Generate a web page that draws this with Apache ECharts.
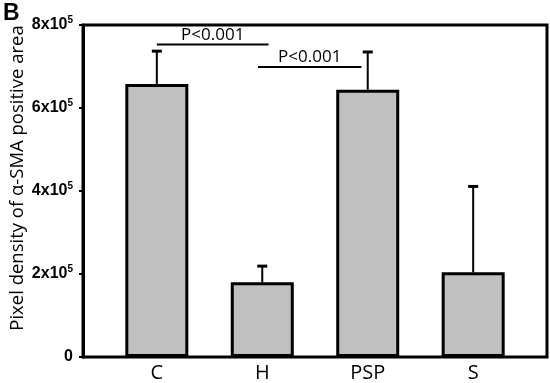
<!DOCTYPE html>
<html><head><meta charset="utf-8">
<script src="https://cdn.jsdelivr.net/npm/echarts@6/dist/echarts.min.js"></script>
<style>html,body{margin:0;padding:0;background:#fff}#c{width:550px;height:383px}</style>
</head><body><div id="c"></div>
<script>
const categories = ['C', 'H', 'PSP', 'S'];
const means = [658000, 180000, 644000, 204000];
const errTops = [737000, 219000, 735000, 411000];
const yTicks = [0, 200000, 400000, 600000, 800000];
const sigPairs = [[1.0, 2.06, 753000], [1.96, 2.94, 699000]];
const sigLabels = ['P<0.001', 'P<0.001'];
const yTitle = 'Pixel density of α-SMA positive area';

const chart = echarts.init(document.getElementById('c'));
const font = 'Liberation Sans';
chart.setOption({
  animation: false,
  grid: { left: 83, right: 3, top: 25, bottom: 25, show: true, borderColor: '#000', borderWidth: 3, backgroundColor: 'transparent' },
  graphic: [
    { type: 'text', left: 3, top: 2, style: { text: 'B', font: 'bold 23px "Liberation Sans"', fill: '#000' } },
    { type: 'text', x: 18, y: 178, rotation: Math.PI / 2, style: { text: yTitle, font: '18.5px "Open Sans"', fill: '#000', align: 'center', verticalAlign: 'middle' } }
  ],
  xAxis: {
    type: 'value', min: 0.3, max: 4.7,
    splitLine: { show: false },
    axisLine: { show: false },
    axisTick: { show: false },
    axisLabel: {
      customValues: [1, 2, 3, 4],
      formatter: v => categories[Math.round(v) - 1] || '',
      color: '#000', fontFamily: 'Open Sans', fontSize: 20, margin: 6
    }
  },
  yAxis: {
    type: 'value', min: 0, max: 800000, interval: 200000,
    splitLine: { show: false },
    axisLine: { show: true, lineStyle: { color: '#000', width: 3 } },
    axisTick: { show: true, length: 4, lineStyle: { color: '#000', width: 2 } },
    axisLabel: {
      color: '#000', margin: 10,
      formatter: v => v === 0 ? '{b|0}' : '{b|' + (v / 100000) + 'x10}{s|5}',
      rich: {
        b: { fontFamily: font, fontWeight: 'bold', fontSize: 16, color: '#000' },
        s: { fontFamily: font, fontWeight: 'bold', fontSize: 10, color: '#000', padding: [0, 0, 9, 0] }
      }
    }
  },
  series: [
    {
      type: 'custom',
      z: 1,
      renderItem: (params, api) => {
        const x = api.value(0);
        const p0 = api.coord([x, api.value(1)]);
        const p1 = api.coord([x, api.value(2)]);
        return {
          type: 'group', children: [
            { type: 'line', shape: { x1: p0[0], y1: p0[1], x2: p1[0], y2: p1[1] }, style: { stroke: '#000', lineWidth: 2 } },
            { type: 'line', shape: { x1: p1[0] - 5, y1: p1[1], x2: p1[0] + 5, y2: p1[1] }, style: { stroke: '#000', lineWidth: 3 } }
          ]
        };
      },
      data: categories.map((c, i) => [i + 1, means[i], errTops[i]])
    },
    {
      type: 'bar',
      z: 2,
      barWidth: 63,
      itemStyle: { color: '#c0c0c0', borderColor: '#000', borderWidth: 3 },
      data: categories.map((c, i) => [i + 1, means[i]])
    },
    {
      type: 'custom',
      z: 3,
      renderItem: (params, api) => {
        const a = api.coord([api.value(0), api.value(2)]);
        const b = api.coord([api.value(1), api.value(2)]);
        return {
          type: 'group', children: [
            { type: 'line', shape: { x1: a[0], y1: a[1], x2: b[0], y2: b[1] }, style: { stroke: '#000', lineWidth: 2 } },
            { type: 'text', style: { text: sigLabels[params.dataIndex], x: (a[0] + b[0]) / 2, y: a[1] - 1, align: 'center', verticalAlign: 'bottom', font: '17px "Open Sans"', fill: '#000' } }
          ]
        };
      },
      data: sigPairs
    }
  ]
});
</script></body></html>
